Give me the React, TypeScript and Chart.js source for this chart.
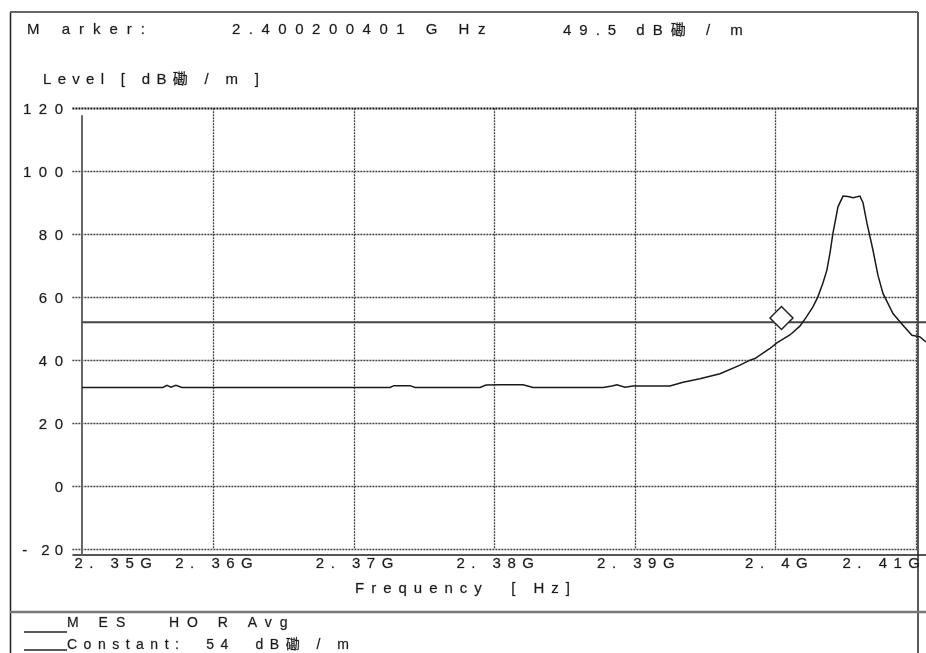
import React, { useEffect, useRef } from "react";
import { Chart, registerables } from "chart.js";

Chart.register(...registerables);

// ---- data ----
const freqGHz = [
  2.35061, 2.35616, 2.35637, 2.35665, 2.35694, 2.35729, 2.35772,
  2.37252, 2.3728, 2.37394, 2.3743, 2.37892, 2.37935, 2.38034, 2.38198,
  2.38269, 2.38767, 2.38831, 2.38866, 2.38923, 2.3898, 2.39243, 2.39336,
  2.39456, 2.39599, 2.39741, 2.39812, 2.39847, 2.39954, 2.40003, 2.40096,
  2.40167, 2.4021, 2.4026, 2.40295, 2.40331, 2.40359, 2.40381, 2.40402,
  2.40438, 2.40474, 2.40509, 2.40545, 2.40594, 2.40616, 2.40644, 2.40687,
  2.40722, 2.40758, 2.40829, 2.409, 2.40964, 2.41021, 2.41064,
];
const levelDb = [
  31.3, 31.3, 31.3, 32.0, 31.4, 32.0, 31.3,
  31.3, 31.9, 31.9, 31.3, 31.3, 32.1, 32.2, 32.2,
  31.3, 31.3, 31.8, 32.2, 31.4, 31.8, 31.8, 33.0,
  34.1, 35.7, 38.4, 40.0, 40.5, 43.7, 45.5, 48.0,
  50.8, 53.5, 56.9, 60.1, 64.5, 68.6, 74.0, 80.3,
  88.7, 92.1, 92.0, 91.6, 92.1, 90.0, 83.5, 74.9,
  67.0, 61.2, 54.8, 51.1, 47.9, 47.4, 45.8,
];
const limitFreq = [2.35061, 2.41064];
const limitDb = [52, 52];
const markerFreq = [2.40036];
const markerDb = [53.4];

const xTicks = [2.35, 2.36, 2.37, 2.38, 2.39, 2.4, 2.41];
const xTickLabels = ["2. 35G", "2. 36G", "2. 37G", "2. 38G", "2. 39G", "2. 4G", "2. 41G"];
const yTicks = [120, 100, 80, 60, 40, 20, 0, -20];
const yTickLabels = ["120", "100", "80", "60", "40", "20", "0", "- 20"];

const markerText = "M arker:";
const markerFreqText = "2.400200401 G Hz";
const markerLevelText = "49.5 dB磡 / m";
const yTitle = "Level [ dB磡 / m ]";
const xTitle = "Frequency  [ Hz]";
const legend1 = "M ES   HO R Avg";
const legend2 = "Constant:  54  dB磡 / m";

const FONT = '"Liberation Sans", Arial, "Noto Sans CJK SC", sans-serif';

function drawText(
  ctx: CanvasRenderingContext2D,
  s: string,
  x: number,
  y: number,
  size: number,
  ls: number,
  align: "left" | "right" | "center" = "left"
) {
  ctx.font = `${size}px ${FONT}`;
  (ctx as any).letterSpacing = `${ls}px`;
  ctx.textAlign = align;
  ctx.textBaseline = "alphabetic";
  ctx.fillStyle = "#1a1a1a";
  ctx.strokeStyle = "rgba(30,30,30,0.45)";
  ctx.lineWidth = 0.5;
  let dx = 0;
  if (align === "right") dx = ls;
  if (align === "center") dx = ls / 2;
  ctx.fillText(s, x + dx, y);
  ctx.strokeText(s, x + dx, y);
}

function seg(ctx: CanvasRenderingContext2D, x1: number, y1: number, x2: number, y2: number) {
  ctx.beginPath();
  ctx.moveTo(x1, y1);
  ctx.lineTo(x2, y2);
  ctx.stroke();
}

const decor = {
  id: "decor",
  beforeDatasetsDraw(chart: any) {
    const ctx: CanvasRenderingContext2D = chart.ctx;
    const xs = chart.scales.x;
    const ys = chart.scales.y;
    const xL = xs.getPixelForValue(xTicks[0]);
    const xR = xs.getPixelForValue(xTicks[xTicks.length - 1]);
    const yT = ys.getPixelForValue(yTicks[0]);
    const yB = ys.getPixelForValue(yTicks[yTicks.length - 1]);
    ctx.save();
    // dotted grid
    ctx.setLineDash([2, 1]);
    yTicks.forEach((v, i) => {
      const y = Math.round(ys.getPixelForValue(v)) + 0.5;
      ctx.lineWidth = i === 0 ? 2.2 : 1.3;
      ctx.strokeStyle = i === 0 ? "#111" : "#444";
      seg(ctx, xL - 1, y, xR, y);
    });
    ctx.lineWidth = 1.3;
    ctx.strokeStyle = "#444";
    xTicks.slice(1).forEach((v) => {
      const x = Math.round(xs.getPixelForValue(v)) - 0.5;
      seg(ctx, x, yT, x, yB);
    });
    ctx.setLineDash([]);
    // solid axis lines
    const yAxis = yB + 6;
    ctx.strokeStyle = "#555";
    ctx.lineWidth = 2;
    seg(ctx, xL - 1, yAxis, chart.width, yAxis);
    const xStart = xs.getPixelForValue(freqGHz[0]);
    ctx.strokeStyle = "#666";
    seg(ctx, xStart, yT + 7, xStart, yAxis);
    // frame
    ctx.strokeStyle = "#222";
    ctx.lineWidth = 1.5;
    seg(ctx, 10.5, 12, 10.5, chart.height);
    seg(ctx, xR + 1, 12, xR + 1, chart.height);
    ctx.strokeStyle = "#666";
    ctx.lineWidth = 2;
    seg(ctx, 10, 12, xR + 1, 12);
    ctx.strokeStyle = "#777";
    ctx.lineWidth = 2.5;
    seg(ctx, 10, 612, chart.width, 612);
    ctx.restore();
  },
  afterDraw(chart: any) {
    const ctx: CanvasRenderingContext2D = chart.ctx;
    const xs = chart.scales.x;
    const ys = chart.scales.y;
    const yB = ys.getPixelForValue(yTicks[yTicks.length - 1]);
    ctx.save();
    // header
    drawText(ctx, markerText, 27, 34, 15, 9);
    drawText(ctx, markerFreqText, 232, 34, 15, 8.5);
    drawText(ctx, markerLevelText, 563, 35, 15, 8);
    drawText(ctx, yTitle, 43, 84, 15, 6.3);
    // y tick labels
    yTicks.forEach((v, i) => {
      const ls = v < 0 ? 5 : 7.5;
      drawText(ctx, yTickLabels[i], 63, ys.getPixelForValue(v) + 6, 15, ls, "right");
    });
    // x tick labels
    xTicks.forEach((v, i) => {
      const px = xs.getPixelForValue(v);
      if (i === 0) drawText(ctx, xTickLabels[i], px + 1, yB + 19, 15, 6.5, "left");
      else if (i === xTicks.length - 1) drawText(ctx, xTickLabels[i], px + 3, yB + 19, 15, 6.5, "right");
      else drawText(ctx, xTickLabels[i], px, yB + 19, 15, 6.5, "center");
    });
    drawText(ctx, xTitle, 355, 593, 15, 7);
    // legend
    ctx.strokeStyle = "#222";
    ctx.lineWidth = 1.5;
    seg(ctx, 24, 632, 67, 632);
    seg(ctx, 24, 650, 67, 650);
    drawText(ctx, legend1, 67, 627, 14, 8);
    drawText(ctx, legend2, 67, 649, 14, 6.5);
    ctx.restore();
  },
};

export default function App() {
  const ref = useRef<HTMLCanvasElement | null>(null);
  useEffect(() => {
    if (!ref.current) return;
    const chart = new Chart(ref.current, {
      type: "line",
      data: {
        datasets: [
          {
            type: "scatter" as any,
            label: "Marker",
            data: markerFreq.map((f, i) => ({ x: f, y: markerDb[i] })),
            pointStyle: "rectRot",
            pointRadius: 11.5,
            backgroundColor: "#ffffff",
            borderColor: "#222",
            borderWidth: 1.5,
            order: 0,
          },
          {
            label: "MES HOR Avg",
            data: freqGHz.map((f, i) => ({ x: f, y: levelDb[i] })),
            borderColor: "#1a1a1a",
            borderWidth: 1.5,
            pointRadius: 0,
            tension: 0,
            fill: false,
            order: 1,
          },
          {
            label: "Constant",
            data: limitFreq.map((f, i) => ({ x: f, y: limitDb[i] })),
            borderColor: "#444",
            borderWidth: 2,
            pointRadius: 0,
            fill: false,
            order: 2,
          },
        ],
      },
      options: {
        responsive: false,
        maintainAspectRatio: false,
        animation: false,
        devicePixelRatio: 1,
        layout: { autoPadding: false, padding: { left: 73.4, right: 0, top: 108.3, bottom: 104 } },
        scales: {
          x: { type: "linear", min: 2.35, max: 2.41064, display: false },
          y: { type: "linear", min: -20, max: 120, display: false },
        },
        plugins: {
          legend: { display: false },
          tooltip: { enabled: false },
        },
      },
      plugins: [decor],
    });
    return () => chart.destroy();
  }, []);
  return (
    <div style={{ position: "fixed", left: 0, top: 0, width: 926, height: 653, background: "#fff" }}>
      <canvas ref={ref} width={926} height={653} style={{ display: "block" }} />
    </div>
  );
}
